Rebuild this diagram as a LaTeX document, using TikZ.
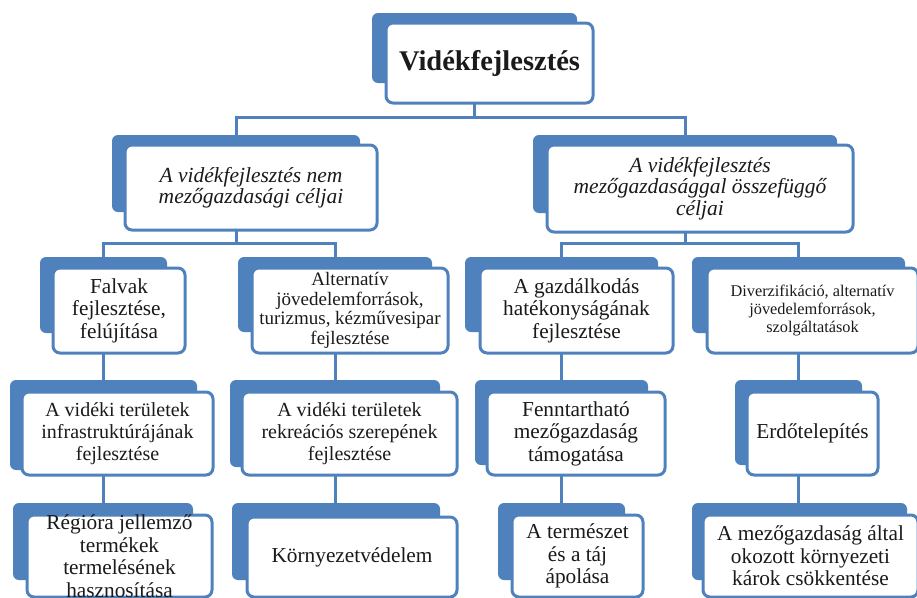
\documentclass[tikz,border=0pt]{standalone}
\usepackage{fontspec}
\setmainfont{Liberation Serif}
\usetikzlibrary{fit,backgrounds}
\definecolor{kblue}{HTML}{4F81BD}
\definecolor{ktext}{HTML}{1A1A1A}
\tikzset{
  backbox/.style={fill=kblue, draw=none, rounded corners=6pt, inner sep=0pt},
  frontbox/.style={fill=white, draw=kblue, line width=3pt, rounded corners=7pt, inner sep=0pt},
  txt/.style={align=center, text=ktext, inner sep=0pt},
  conn/.style={draw=kblue, line width=3pt},
  fA/.style={font=\fontsize{28.5}{30}\selectfont\bfseries},
  fB/.style={font=\fontsize{21.5}{21.5}\selectfont\itshape},
  fC/.style={font=\fontsize{21.3}{22.5}\selectfont},
  fD/.style={font=\fontsize{19}{19.7}\selectfont},
  fE/.style={font=\fontsize{16.3}{18}\selectfont},
  fF/.style={font=\fontsize{20}{22}\selectfont},
}
\newcommand\kbox[5]{%
  \node[backbox, fit={#2}] (b#1) {};
  \node[frontbox, fit={#3}] (f#1) {};
  \node[txt, #4] (t#1) at (f#1.center) {#5};
}
\begin{document}
\begin{tikzpicture}[x=1pt, y=-1pt]
\useasboundingbox (0,0) rectangle (917,597);
% level 0
\kbox{0}{(372,13)(577,83)}{(386,23)(593,103)}{fA}{Vidékfejlesztés}
% level 1
\kbox{L}{(112,135)(360,212)}{(125,145)(377,230)}{fB}{A vidékfejlesztés nem\\mezőgazdasági céljai}
\kbox{R}{(533,135)(837,213)}{(547,145)(853,232)}{fB}{A vidékfejlesztés\\mezőgazdasággal összefüggő\\céljai}
% level 2
\kbox{1}{(40,257)(167,333)}{(53,268)(185,353)}{fC}{Falvak\\fejlesztése,\\felújítása}
\kbox{2}{(238,257)(432,332)}{(252,268)(448,353)}{fD}{Alternatív\\jövedelemforrások,\\turizmus, kézművesipar\\fejlesztése}
\kbox{3}{(465,257)(658,332)}{(480,268)(673,353)}{fC}{A gazdálkodás\\hatékonyságának\\fejlesztése}
\kbox{4}{(692,257)(905,333)}{(707,268)(918,353)}{fE}{Diverzifikáció, alternatív\\jövedelemforrások,\\szolgáltatások}
% level 3
\kbox{5}{(10,380)(197,470)}{(22,392)(213,475)}{fF}{A vidéki területek\\infrastruktúrájának\\fejlesztése}
\kbox{6}{(230,380)(440,467)}{(242,392)(457,475)}{fF}{A vidéki területek\\rekreációs szerepének\\fejlesztése}
\kbox{7}{(475,380)(648,465)}{(487,392)(665,475)}{fC}{Fenntartható\\mezőgazdaság\\támogatása}
\kbox{8}{(735,380)(862,465)}{(747,392)(878,475)}{fC}{Erdőtelepítés}
% level 4
\kbox{9}{(13,503)(193,580)}{(27,515)(212,597)}{fC}{Régióra jellemző\\termékek\\termelésének\\hasznosítása}
\kbox{10}{(232,503)(440,580)}{(247,517)(457,597)}{fC}{Környezetvédelem}
\kbox{11}{(498,503)(625,580)}{(512,515)(643,597)}{fC}{A természet\\és a táj\\ápolása}
\kbox{12}{(692,503)(907,580)}{(703,515)(918,597)}{fC}{A mezőgazdaság által\\okozott környezeti\\károk csökkentése}
% connectors
\coordinate (j0) at (474.5,117);
\coordinate (jL) at (236,243);
\coordinate (jR) at (685,243);
\begin{pgfonlayer}{background}
  \draw[conn] (b0.center) -- (j0);
  \draw[conn] (bL.north) |- (j0) -| (bR.north);
  \draw[conn] (bL.center) -- (jL);
  \draw[conn] (b1.north) |- (jL) -| (b2.north);
  \draw[conn] (bR.center) -- (jR);
  \draw[conn] (b3.north) |- (jR) -| (b4.north);
  \draw[conn] (b1.center) -- (b1.center |- b5.north);
  \draw[conn] (b2.center) -- (b2.center |- b6.north);
  \draw[conn] (b3.center) -- (b3.center |- b7.north);
  \draw[conn] (b4.center) -- (b4.center |- b8.north);
  \draw[conn] (b5.center) -- (b5.center |- b9.north);
  \draw[conn] (b6.center) -- (b6.center |- b10.north);
  \draw[conn] (b7.center) -- (b7.center |- b11.north);
  \draw[conn] (b8.center) -- (b8.center |- b12.north);
\end{pgfonlayer}
\end{tikzpicture}
\end{document}
